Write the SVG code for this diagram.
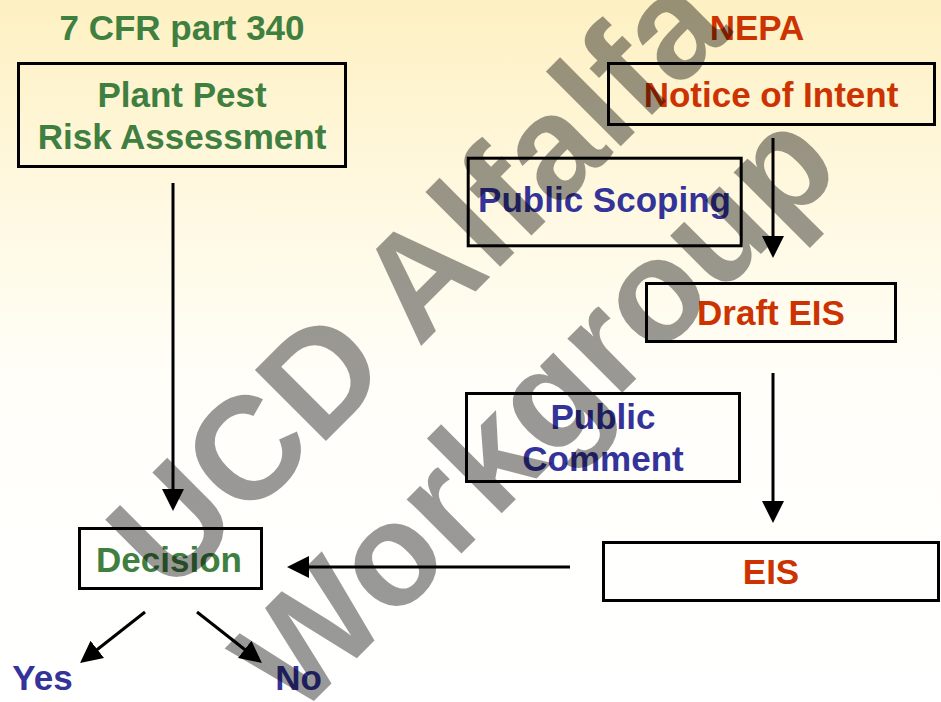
<svg xmlns="http://www.w3.org/2000/svg" width="941" height="702" viewBox="0 0 941 702">
  <defs>
    <linearGradient id="bg" x1="0" y1="0" x2="0" y2="1">
      <stop offset="0" stop-color="#fdf0c2"/>
      <stop offset="0.3" stop-color="#fff9e2"/>
      <stop offset="0.55" stop-color="#fffef9"/>
      <stop offset="1" stop-color="#ffffff"/>
    </linearGradient>
    <marker id="ah" viewBox="0 0 20 20" refX="10" refY="10" markerWidth="22" markerHeight="22" markerUnits="userSpaceOnUse" orient="auto">
      <path d="M0,0 L20,10 L0,20 z" fill="#000"/>
    </marker>
    <style>
      .box { fill: none; stroke: #000; stroke-width: 3; }
      .t { font-family: "Liberation Sans", Arial, sans-serif; font-weight: bold; font-size: 35px; text-anchor: middle; }
      .g { fill: #3f7f3f; }
      .r { fill: #cc3300; }
      .b { fill: #333399; }
      .con { stroke: #000; stroke-width: 3; fill: none; marker-end: url(#ah); }
      .wm { font-family: "Liberation Sans", Arial, sans-serif; font-weight: bold; font-size: 146px; fill: #000; fill-opacity: 0.4; }
    </style>
  </defs>
  <rect x="0" y="0" width="941" height="702" fill="url(#bg)"/>

  <text class="t g" x="182" y="40">7 CFR part 340</text>
  <text class="t r" x="757" y="40">NEPA</text>

  <g id="plant-pest">
    <rect class="box" x="18.5" y="63.5" width="327" height="103"/>
    <text class="t g" x="182" y="107">Plant Pest</text>
    <text class="t g" x="182" y="149">Risk Assessment</text>
  </g>
  <g id="notice">
    <rect class="box" x="608.5" y="63.5" width="326" height="61"/>
    <text class="t r" x="771" y="107">Notice of Intent</text>
  </g>
  <g id="public-scoping">
    <rect class="box" x="468.2" y="158.2" width="273" height="87.6"/>
    <text class="t b" x="604.5" y="212">Public Scoping</text>
  </g>
  <g id="draft-eis">
    <rect class="box" x="646.5" y="283.5" width="249" height="58"/>
    <text class="t r" x="771" y="325">Draft EIS</text>
  </g>
  <g id="public-comment">
    <rect class="box" x="466.5" y="393.5" width="273" height="88"/>
    <text class="t b" x="603" y="429">Public</text>
    <text class="t b" x="603" y="471">Comment</text>
  </g>
  <g id="eis">
    <rect class="box" x="603.5" y="542.5" width="335" height="58"/>
    <text class="t r" x="771" y="584">EIS</text>
  </g>
  <g id="decision">
    <rect class="box" x="79.5" y="528.5" width="182" height="60"/>
    <text class="t g" x="169" y="572">Decision</text>
  </g>
  <g id="yes">
    <text class="t b" x="42.5" y="690">Yes</text>
  </g>
  <g id="no">
    <text class="t b" x="298.5" y="690">No</text>
  </g>

  <g id="connectors">
    <line class="con" x1="173" y1="183" x2="173" y2="500"/>
    <line class="con" x1="773" y1="138" x2="773" y2="247"/>
    <line class="con" x1="773" y1="373" x2="773" y2="512"/>
    <line class="con" x1="570" y1="567" x2="298" y2="567"/>
    <line class="con" x1="145" y1="612" x2="88.7" y2="656.2"/>
    <line class="con" x1="197" y1="612" x2="253.3" y2="656.2"/>
  </g>

  <g id="watermark">
    <text class="wm" transform="translate(170,597) rotate(-45)">UCD Alfalfa</text>
    <text class="wm" transform="translate(295.6,719.4) rotate(-45)">Workgroup</text>
  </g>
</svg>
